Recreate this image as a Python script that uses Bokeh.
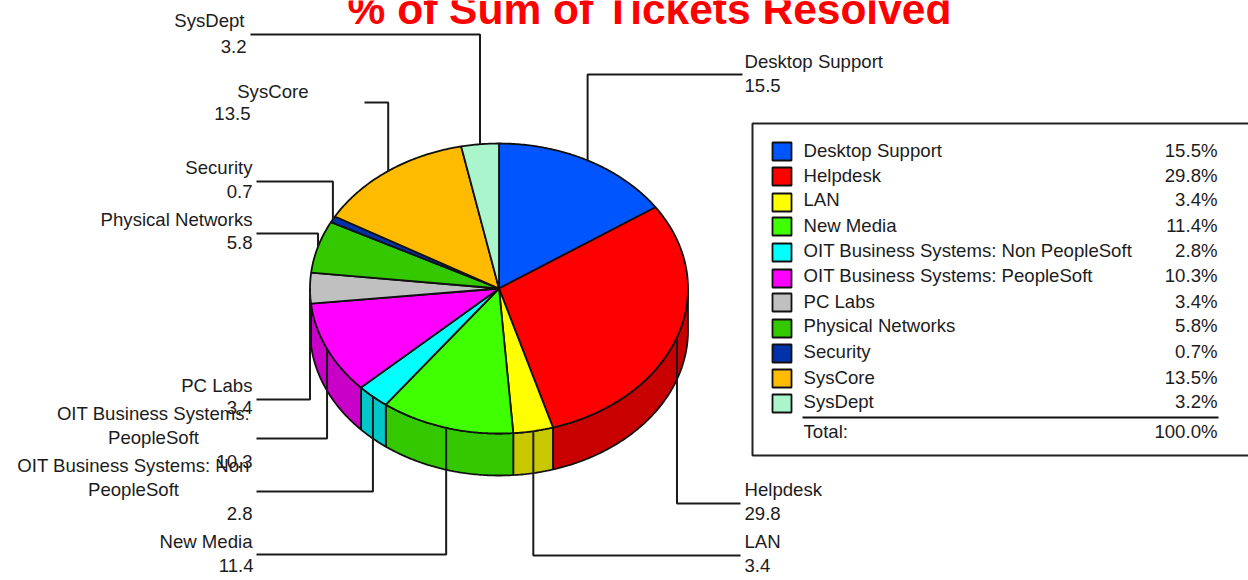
import numpy as np
from bokeh.plotting import figure
from bokeh.embed import file_html
from bokeh.resources import INLINE
from bokeh.core.properties import value
from bokeh.models import Range1d

title = "% of Sum of Tickets Resolved"
categories = ["Desktop Support", "Helpdesk", "LAN", "New Media",
              "OIT Business Systems: Non PeopleSoft", "OIT Business Systems: PeopleSoft",
              "PC Labs", "Physical Networks", "Security", "SysCore", "SysDept"]
values = [15.5, 29.8, 3.4, 11.4, 2.8, 10.3, 3.4, 5.8, 0.7, 13.5, 3.2]
colors = ["#0055FF", "#FF0000", "#FFFF00", "#40FF00", "#00FFFF", "#FF00FF",
          "#C0C0C0", "#33C800", "#0033AA", "#FFBB00", "#AAF5CC"]
side_colors = ["#0044CC", "#C80000", "#C8C800", "#33C800", "#00C8C8", "#C800C8",
               "#9A9A9A", "#289F00", "#002888", "#CC9600", "#88C4A3"]
total_label = "100.0%"

# layout, in page pixels
CX, CY, RX, RY, DEPTH = 498.5, 288, 189, 145, 42
elbow_y = [74, 503, 555, 554, 491, 438, 399, 233, 181, 102, 34]
end_x = [742, 740, 740, 256, 256, 256, 256, 256, 256, 364, 250]
name_lines = [["Desktop Support"], ["Helpdesk"], ["LAN"], ["New Media"],
              ["OIT Business Systems: Non", "PeopleSoft"],
              ["OIT Business Systems:", "PeopleSoft"],
              ["PC Labs"], ["Physical Networks"], ["Security"], ["SysCore"], ["SysDept"]]
name_x = [744, 744, 744, 252, 133, 153, 252, 252, 252, 308, 244]
name_y = [61, 489, 541, 541, 465, 413, 385, 219, 167, 91, 20]
name_align = ["left", "left", "left", "right", "center", "center", "right", "right", "right", "right", "right"]
val_x = [744, 744, 744, 253, 252, 252, 252, 252, 252, 250, 246]
val_y = [85, 513, 565, 565, 513, 461, 407, 242, 191, 113, 46]
val_align = ["left", "left", "left", "right", "right", "right", "right", "right", "right", "right", "right"]
leg_swatch_y = [151, 176, 202, 226, 252, 278, 302, 328, 353, 378, 403]
leg_text_y = [150, 175, 199, 225, 250, 275, 301, 325, 351, 377, 401]

FONT = value("Liberation Sans")
TXT = "#1c1c1c"
FS = "18.6px"

p = figure(width=1248, height=580, output_backend="svg", toolbar_location=None,
           x_range=Range1d(0, 1248), y_range=Range1d(580, 0),
           min_border=0, outline_line_color=None, x_axis_location=None, y_axis_location=None)
p.grid.visible = False
p.axis.visible = False


def arc(a0, a1):
    n = max(2, int(abs(a1 - a0) / 0.01))
    return np.linspace(a0, a1, n)


def ex(a):
    return CX + RX * np.sin(a)


def ey(a):
    return CY - RY * np.cos(a)


v = np.array(values, dtype=float)
edges = np.concatenate([[0], np.cumsum(v)]) / v.sum() * 2 * np.pi
OUT = "#101010"
LW = 1.8

# side wall: only the front half of the ellipse shows
for i in range(len(v)):
    a0, a1 = max(edges[i], np.pi / 2), min(edges[i + 1], 3 * np.pi / 2)
    if a1 > a0:
        a = arc(a0, a1)
        xs = np.concatenate([ex(a), ex(a[::-1])])
        ys = np.concatenate([ey(a), ey(a[::-1]) + DEPTH])
        p.patch(xs, ys, fill_color=side_colors[i], line_color=OUT, line_width=LW)

# top face
for i in range(len(v)):
    a = arc(edges[i], edges[i + 1])
    xs = np.concatenate([[CX], ex(a)])
    ys = np.concatenate([[CY], ey(a)])
    p.patch(xs, ys, fill_color=colors[i], line_color=OUT, line_width=LW)

# leaders
mids = (edges[:-1] + edges[1:]) / 2
for i in range(len(v)):
    ax, ay = ex(mids[i]), ey(mids[i])
    p.line([ax, ax, end_x[i]], [ay, elbow_y[i], elbow_y[i]], line_color="#1a1a1a", line_width=2)


def txt(x, y, s, align="left", size=FS, color=TXT, style="normal"):
    p.text([x], [y], text=[s], text_align=align, text_baseline="middle", text_font=FONT,
           text_font_size=size, text_color=color, text_font_style=style)


for i in range(len(v)):
    for k, line in enumerate(name_lines[i]):
        txt(name_x[i], name_y[i] + 24 * k, line, name_align[i])
    txt(val_x[i], val_y[i], f"{values[i]:.1f}", val_align[i])

# legend
p.quad(left=[752], right=[1260], top=[123], bottom=[455], fill_color="white",
       line_color="#222222", line_width=2)
for i in range(len(v)):
    y = leg_swatch_y[i]
    p.quad(left=[772], right=[791], top=[y - 9], bottom=[y + 9], fill_color=colors[i],
           line_color="#111111", line_width=1.8)
    txt(803, leg_text_y[i], categories[i])
    txt(1217, leg_text_y[i], f"{values[i]:.1f}%", "right")
p.line([802, 1218], [417, 417], line_color="#111111", line_width=1.8)
txt(803, 431, "Total:")
txt(1217, 431, total_label, "right")

txt(649, 9, title, "center", "42.5px", "#FF0000", "bold")

open("out.html", "w").write(file_html(p, INLINE))
